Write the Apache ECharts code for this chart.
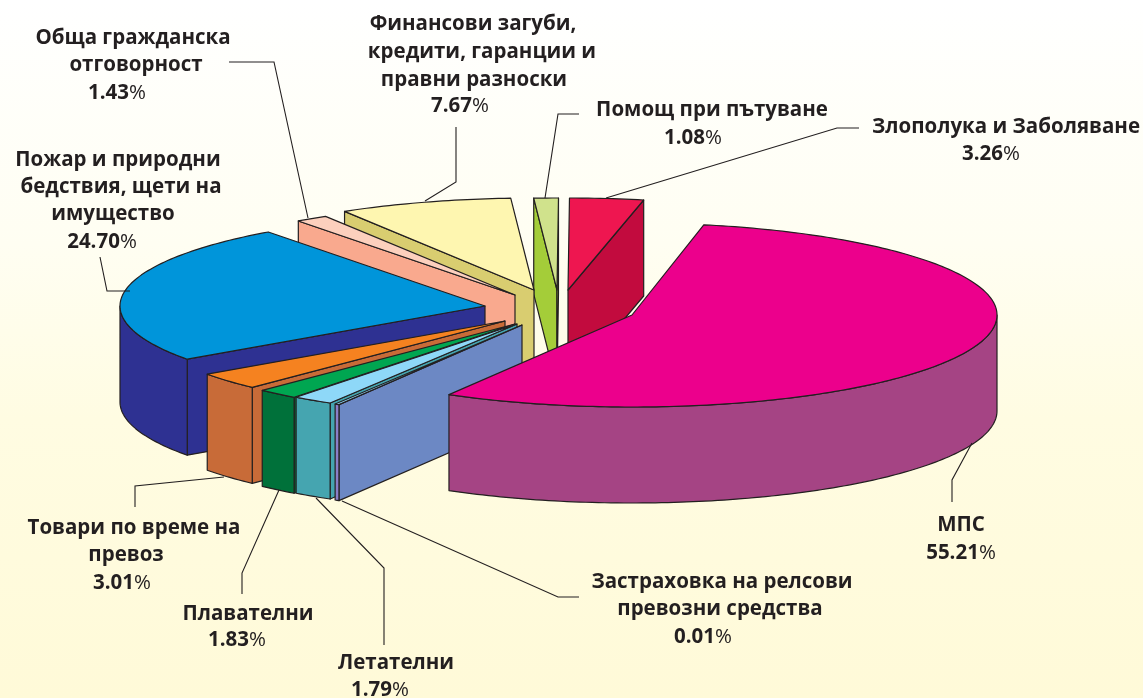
<!DOCTYPE html>
<html><head><meta charset="utf-8">
<style>html,body{margin:0;padding:0;background:#fff}#c{width:1143px;height:698px}</style>
<script src="https://cdn.jsdelivr.net/npm/echarts@6/dist/echarts.min.js"></script>
</head><body><div id="c"></div>
<script>
// ---- data, in clockwise order from the start of МПС
const categories = ['МПС','Застраховка на релсови превозни средства','Летателни','Плавателни','Товари по време на превоз','Пожар и природни бедствия, щети на имущество','Обща гражданска отговорност','Финансови загуби, кредити, гаранции и правни разноски','Помощ при пътуване','Злополука и Заболяване'];
const shares = [55.21,0.01,1.79,1.83,3.01,24.70,1.43,7.67,1.08,3.26];
// ---- text
const labelLines = [
  ['МПС','55.21%'],
  ['Застраховка на релсови','превозни средства','0.01%'],
  ['Летателни','1.79%'],
  ['Плавателни','1.83%'],
  ['Товари по време на','превоз','3.01%'],
  ['Пожар и природни','бедствия, щети на','имущество','24.70%'],
  ['Обща гражданска','отговорност','1.43%'],
  ['Финансови загуби,','кредити, гаранции и','правни разноски','7.67%'],
  ['Помощ при пътуване','1.08%'],
  ['Злополука и Заболяване','3.26%']
];
// ---- styles
const topColors  = ['#ec008c','#8ed8f8','#8ed8f8','#00a651','#f58220','#0095da','#fcd0bd','#fef6b0','#d0e28c','#ee1650'];
const wallColors = ['#a54484','#8a7fc8','#45a5b0','#00713a','#c86b38','#2e3192','#f9a98e','#d9cd70','#a4cd39','#c20b3e'];
const cutColors  = ['#a54484','#6c88c4','#45a5b0','#00713a','#c86b38','#2e3192','#f9a98e','#d9cd70','#a4cd39','#c20b3e'];
// ---- layout
const pieCenter = [520,310], radiusX = 365, radiusY = 92, depth = 96, firstAngle = -78.66, minSweep = 0.7;
const explode = [[112,5],[2,15],[-3,14],[-5,14],[-15,11],[-35,-4],[-5,-15],[14,-20],[37,-20],[48,-20]];
const linePlacement = [
  [[961,525],[961,553]],
  [[722,582],[720,609],[703,637]],
  [[396,663],[380,690]],
  [[248,614],[237,640]],
  [[134,528],[126,555],[122,583]],
  [[118,160],[121,187],[113,214],[102,242]],
  [[133,38],[136,65],[117,93]],
  [[473,24],[482,52],[474,80],[460,106]],
  [[712,110],[693,138]],
  [[1006,127],[991,154]]
];
const leaders = [
  [[952,502],[952,480],[972,443]],
  [[579,597],[558,597],[342,501]],
  [[384,645],[384,568],[316,498]],
  [[242,594],[242,573],[279,490]],
  [[135,507],[135,486],[224,477]],
  [[100,257],[107,291],[130,291]],
  [[229,62],[274,62],[308,218]],
  [[456,127],[456,182],[425,201]],
  [[579,114],[558,114],[545,198]],
  [[859,128],[837,128],[606,198]]
];
const fontFamily = '"Open Sans","Noto Sans",sans-serif', ink = '#231f20', fontSize = 20.5;

// angular ranges derive from the values
let running = firstAngle;
const ranges = shares.map(v => { const s = Math.max(v*3.6, minSweep), r = [running, running+s]; running += s; return r; });
const rad = d => d*Math.PI/180;
function rim(tip, deg, dz){ return [tip[0]+radiusX*Math.cos(rad(deg)), tip[1]+radiusY*Math.sin(rad(deg))+dz]; }
function arc(tip, a, b, dz){
  const n = Math.max(2, Math.ceil(Math.abs(b-a))), pts = [];
  for(let k=0;k<=n;k++) pts.push(rim(tip, a+(b-a)*k/n, dz));
  return pts;
}
function poly(points, fill, lw){
  return {type:'polygon', shape:{points}, style:{fill, stroke:ink, lineWidth:lw||1.2, lineJoin:'round'}};
}
function renderSlice(params, api){
  const i = api.value(0);
  const tip = [pieCenter[0]+explode[i][0], pieCenter[1]+explode[i][1]];
  const [a,b] = ranges[i];
  const kids = [];
  const cut = deg => { const p = rim(tip,deg,0), q = rim(tip,deg,depth);
    return poly([tip,p,q,[tip[0],tip[1]+depth]], cutColors[i]); };
  if(Math.cos(rad(a))<0) kids.push(cut(a));
  if(Math.cos(rad(b))>0) kids.push(cut(b));
  const wa = Math.max(a,0), wb = Math.min(b,180);
  if(wb>wa) kids.push(poly(arc(tip,wa,wb,0).concat(arc(tip,wb,wa,depth)), wallColors[i]));
  kids.push(poly([tip].concat(arc(tip,a,b,0)), topColors[i]));
  kids.push({type:'polyline', shape:{points:leaders[i]}, style:{fill:null, stroke:ink, lineWidth:1.1}});
  labelLines[i].forEach((line,k)=>{
    const pct = line.endsWith('%');
    kids.push({type:'text', x:linePlacement[i][k][0], y:linePlacement[i][k][1], style:{
      text: pct ? '{n|'+line.slice(0,-1)+'}{p|%}' : line,
      align:'center', verticalAlign:'middle', fill:ink, fontFamily, fontSize, fontWeight:700,
      rich:{n:{fontFamily,fontSize,fontWeight:700,fill:ink},p:{fontFamily,fontSize,fontWeight:400,fill:ink}}
    }});
  });
  return {type:'group', children:kids};
}
const chart = echarts.init(document.getElementById('c'), null, {renderer:'canvas'});
const drawOrder = shares.map((_,i)=>shares.length-1-i);
chart.setOption({
  animation:false,
  backgroundColor:{type:'linear',x:0,y:0,x2:0,y2:1,colorStops:[
    {offset:0,color:'#ffffff'},{offset:0.35,color:'#fffef2'},{offset:0.6,color:'#fffce2'},{offset:1,color:'#fffad8'}]},
  series:[{type:'custom', coordinateSystem:'none', name:'Дялове', silent:true, clip:false,
    renderItem:renderSlice,
    data:drawOrder.map(i=>({name:categories[i], value:[i,shares[i]]}))}]
});
</script></body></html>
